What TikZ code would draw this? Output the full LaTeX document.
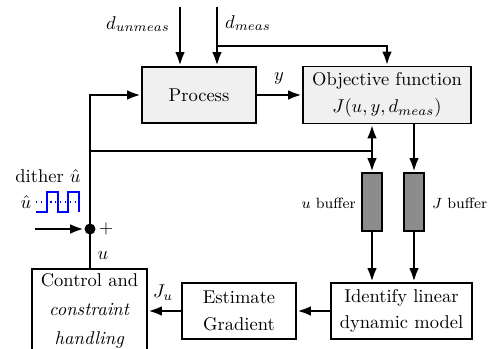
\documentclass[tikz,border=0pt]{standalone}
\usetikzlibrary{arrows.meta}
\def\PX{0.54pt}
\tikzset{
  x=0.54pt, y=-0.54pt,
  conn/.style={line width=1.5pt, -{Latex[length=7.5pt,width=5.2pt]}},
  plain/.style={line width=1.5pt},
  blk/.style={draw, line width=1pt, rectangle, align=center, inner sep=0pt},
  graybox/.style={blk, fill=black!6},
  bufbox/.style={draw, line width=1pt, fill=black!45, minimum width=20*\PX, minimum height=58*\PX, inner sep=0pt},
  lbl/.style={inner sep=1pt}
}
\begin{document}
\begin{tikzpicture}
\useasboundingbox (0,0) rectangle (491,349);
% blocks
\node[graybox, minimum width=114*\PX, minimum height=56*\PX] (proc) at (199,95) {Process};
\node[graybox, minimum width=168*\PX, minimum height=57*\PX] (obj) at (387,95) {Objective function\\[2.5pt] $J(u,y,d_{meas})$};
\node[bufbox] (ubuf) at (372,202) {};
\node[bufbox] (jbuf) at (414,202) {};
\node[blk, minimum width=141*\PX, minimum height=56*\PX] (ident) at (401.5,311) {Identify linear\\[2pt] dynamic model};
\node[blk, minimum width=114*\PX, minimum height=56*\PX] (est) at (239,311) {Estimate\\[2.5pt] Gradient};
\node[blk, minimum width=115*\PX, minimum height=84*\PX] (ctrl) at (89.5,311) {Control and\\[3.5pt] \textit{constraint}\\[3.5pt] \textit{handling}};
\node[circle, fill, inner sep=0pt, minimum size=11*\PX] (junc) at (90,229) {};
% coordinates
\coordinate (dun) at (180,7);
\coordinate (dme) at (217,7);
\coordinate (dbr) at (217,46);
\coordinate (ubr) at (90,151);
\coordinate (uj) at (372,151);
\coordinate (inp) at (35,229);
% labels
\node[lbl] (ldun) at (138,24) {$d_{unmeas}$};
\node[lbl] (ldme) at (248,23) {$d_{meas}$};
\node[lbl] (ly) at (279,78) {$y$};
\node[lbl, anchor=east, font=\footnotesize] (lub) at (358,203) {$u$ buffer};
\node[lbl, anchor=west, font=\footnotesize] (ljb) at (430,203) {$J$ buffer};
\node[lbl] (lju) at (163,293) {$J_u$};
\node[lbl] (lplus) at (106,229) {$+$};
\node[lbl] (lu) at (103,256) {$u$};
\node[lbl] (ldith) at (48,176) {dither $\hat{u}$};
\node[lbl] (luh) at (26,202) {$\hat{u}$};
% dither signal
\draw[blue, line width=1pt] (36,212) -- (47,212) -- (47,192) -- (58,192) -- (58,212) -- (68,212) -- (68,192) -- (79,192) -- (79,212);
\draw[blue, dotted, line width=0.6pt] (36,202) -- (79,202);
% connectors
\draw[conn] (dun) -- (proc.north -| dun);
\draw[conn] (dme) -- (proc.north -| dme);
\draw[conn] (dbr) -| (obj.north);
\draw[conn] (proc.east) -- (obj.west);
\draw[conn] (junc.center) |- (proc.west);
\draw[plain] (ubr) -- (uj);
\draw[conn] (uj) -- (obj.south -| uj);
\draw[conn] (uj) -- (ubuf.north);
\draw[conn] (obj.south -| jbuf) -- (jbuf.north);
\draw[conn] (ubuf.south) -- (ident.north -| ubuf);
\draw[conn] (jbuf.south) -- (ident.north -| jbuf);
\draw[conn] (ident.west) -- (est.east);
\draw[conn] (est.west) -- (est.west -| ctrl.east);
\draw[plain] (junc.center) -- (junc |- ctrl.north);
\draw[conn] (inp) -- (junc.west);
\end{tikzpicture}
\end{document}
